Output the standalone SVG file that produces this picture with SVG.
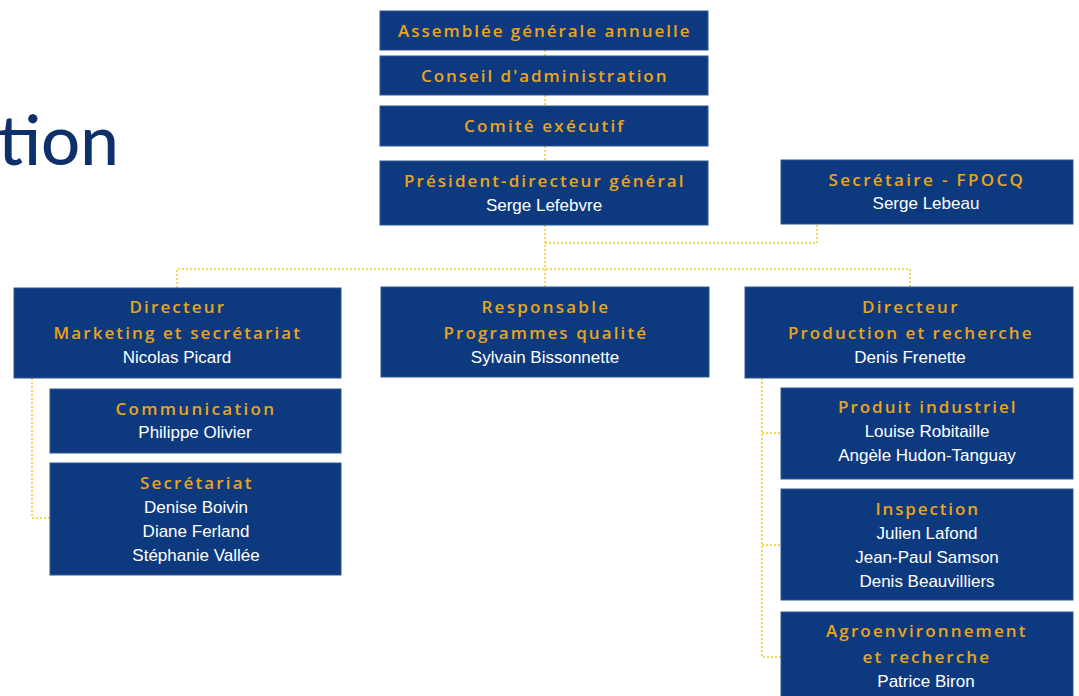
<svg xmlns="http://www.w3.org/2000/svg" width="1079" height="696" viewBox="0 0 1079 696">
<style>
.box{fill:#0d3a7e;stroke:#2f5494;stroke-width:1}
.t{font-family:"Open Sans","Liberation Sans",sans-serif;font-size:17px;font-weight:600;fill:#e9a41c;text-anchor:middle;letter-spacing:0.5px}
.n{font-family:"Liberation Sans","Noto Sans",sans-serif;font-size:17px;fill:#ffffff;text-anchor:middle}
.c{fill:none;stroke:#f2d85a;stroke-width:2;stroke-dasharray:2 2}
</style>
<rect width="1079" height="696" fill="#ffffff"/>
<text x="-2" y="165" font-family="Lato,'Noto Sans',sans-serif" font-size="69" font-weight="500" fill="#0d2f6b">tion</text>
<g id="connectors">
<path class="c" d="M545 50V56M545 95V106M545 146V161M545 225V288"/>
<path class="c" d="M545 243H817V224"/>
<path class="c" d="M177 288V269H910V287"/>
<path class="c" d="M32 378V518H50"/>
<path class="c" d="M762 378V657H781M762 433H781M762 545H781"/>
</g>
<g id="n-assemblee"><rect class="box" x="380" y="11" width="328" height="39"/><text class="t" x="544" y="37" textLength="292">Assemblée générale annuelle</text></g>
<g id="n-conseil"><rect class="box" x="380" y="56" width="328" height="39"/><text class="t" x="544" y="82" textLength="246">Conseil d'administration</text></g>
<g id="n-comite"><rect class="box" x="380" y="106" width="328" height="40"/><text class="t" x="544" y="132" textLength="160">Comité exécutif</text></g>
<g id="n-pdg"><rect class="box" x="380" y="161" width="328" height="64"/><text class="t" x="544" y="187" textLength="280">Président-directeur général</text><text class="n" x="544" y="211">Serge Lefebvre</text></g>
<g id="n-secretaire"><rect class="box" x="781" y="160" width="292" height="64"/><text class="t" x="926" y="186" textLength="195">Secrétaire - FPOCQ</text><text class="n" x="926" y="209">Serge Lebeau</text></g>
<g id="n-marketing"><rect class="box" x="14" y="288" width="327" height="90"/><text class="t" x="177" y="313" textLength="95">Directeur</text><text class="t" x="177" y="339" textLength="247">Marketing et secrétariat</text><text class="n" x="177" y="363">Nicolas Picard</text></g>
<g id="n-responsable"><rect class="box" x="381" y="287" width="328" height="90"/><text class="t" x="545" y="313" textLength="127">Responsable</text><text class="t" x="545" y="339" textLength="203">Programmes qualité</text><text class="n" x="545" y="363">Sylvain Bissonnette</text></g>
<g id="n-production"><rect class="box" x="745" y="287" width="328" height="91"/><text class="t" x="910" y="313" textLength="96">Directeur</text><text class="t" x="910" y="339" textLength="244">Production et recherche</text><text class="n" x="910" y="363">Denis Frenette</text></g>
<g id="n-communication"><rect class="box" x="50" y="389" width="291" height="64"/><text class="t" x="195" y="415" textLength="159">Communication</text><text class="n" x="195" y="438">Philippe Olivier</text></g>
<g id="n-secretariat"><rect class="box" x="50" y="463" width="291" height="112"/><text class="t" x="196" y="489" textLength="112">Secrétariat</text><text class="n" x="196" y="513">Denise Boivin</text><text class="n" x="196" y="537">Diane Ferland</text><text class="n" x="196" y="561">Stéphanie Vallée</text></g>
<g id="n-produit"><rect class="box" x="781" y="388" width="292" height="91"/><text class="t" x="927" y="413" textLength="178">Produit industriel</text><text class="n" x="927" y="437">Louise Robitaille</text><text class="n" x="927" y="461">Angèle Hudon-Tanguay</text></g>
<g id="n-inspection"><rect class="box" x="781" y="489" width="292" height="111"/><text class="t" x="927" y="515" textLength="103">Inspection</text><text class="n" x="927" y="539">Julien Lafond</text><text class="n" x="927" y="563">Jean-Paul Samson</text><text class="n" x="927" y="587">Denis Beauvilliers</text></g>
<g id="n-agro"><rect class="box" x="781" y="612" width="292" height="90"/><text class="t" x="926" y="637" textLength="200">Agroenvironnement</text><text class="t" x="926" y="663" textLength="127">et recherche</text><text class="n" x="926" y="687">Patrice Biron</text></g>
</svg>
